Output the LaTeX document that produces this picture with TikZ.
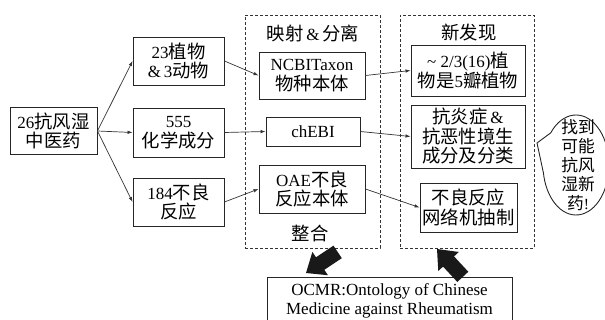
\documentclass[tikz,border=0pt]{standalone}
\usepackage{fontspec}
\setmainfont{Liberation Serif}
\newfontfamily\cjk[Scale=1.08]{Noto Sans CJK SC}
\newcommand{\zh}[1]{{\cjk #1}}
\newcommand{\fsz}{\fontsize{17}{19.5}\selectfont}
\usetikzlibrary{arrows.meta,shapes.geometric}
\begin{document}
\begin{tikzpicture}[x=1pt,y=-1pt,
  box/.style={draw=black!85, line width=0.9pt, align=center, inner sep=1pt, font=\fsz},
  grp/.style={draw=black!80, line width=0.8pt, dash pattern=on 3pt off 2pt, inner sep=0pt},
  lbl/.style={align=center, inner sep=0pt, font=\fsz},
  conn/.style={draw=black!80, line width=0.7pt, -{Latex[length=5pt,width=3.5pt]}},
  blk/.style={fill=black!90}]
\useasboundingbox (0,0) rectangle (605,320);
\clip (0,0) rectangle (605,320);
% group frames
\node[grp, minimum width=135pt, minimum height=233pt] (g1) at (312.5,131.5) {};
\node[grp, minimum width=134pt, minimum height=233pt] (g2) at (467,131.5) {};
\node[lbl] (t1) at (313,33) {\zh{映射}\,\&\,\zh{分离}};
\node[lbl] (t2) at (469,33) {\zh{新发现}};
\node[lbl] (t3) at (310,233) {\zh{整合}};
% left column
\node[box, minimum width=87pt, minimum height=47pt] (src) at (53.5,131) {26\zh{抗风湿}\\\zh{中医药}};
\node[box, minimum width=91pt, minimum height=48pt] (n23) at (178.5,61) {23\zh{植物}\\\&\,3\zh{动物}};
\node[box, minimum width=91pt, minimum height=49pt] (n555) at (178.5,132.5) {555\\\zh{化学成分}};
\node[box, minimum width=91pt, minimum height=48pt] (n184) at (178.5,202) {184\zh{不良}\\\zh{反应}};
% middle column
\node[box, minimum width=106pt, minimum height=47pt] (ncbi) at (312,75.5) {NCBITaxon\\\zh{物种本体}};
\node[box, minimum width=94pt, minimum height=29pt] (chebi) at (313,131.5) {chEBI};
\node[box, minimum width=106pt, minimum height=48pt] (oae) at (312,189) {OAE\zh{不良}\\\zh{反应本体}};
% right column
\node[box, minimum width=114pt, minimum height=51pt] (f1) at (468,70.5) {\textasciitilde\ 2/3(16)\zh{植}\\\zh{物是}5\zh{瓣植物}};
\node[box, minimum width=114pt, minimum height=63pt] (f2) at (468,136.5) {\zh{抗炎症}\,\&\\\zh{抗恶性境生}\\\zh{成分及分类}};
\node[box, minimum width=97pt, minimum height=49pt] (f3) at (468.5,207.5) {\zh{不良反应}\\\zh{网络机抽制}};
% bottom
\node[box, minimum width=245pt, minimum height=48pt] (ocmr) at (389.5,301) {OCMR:Ontology of Chinese\\Medicine against Rheumatism};
% speech bubble
\coordinate (tip) at (537,143);
\draw[line width=0.9pt, black!85] (tip) -- (550.72,132.86) arc[start angle=220, end angle=531, x radius=33, y radius=50] -- cycle;
\node[lbl, font=\fontsize{15.5}{19}\selectfont] (bub) at (578,165) {\zh{找到}\\\zh{可能}\\\zh{抗风}\\\zh{湿新}\\\zh{药}!};
% connectors
\draw[conn] (src.east) -- (n23.west);
\draw[conn] (src.east) -- (n555.west);
\draw[conn] (src.east) -- (n184.west);
\draw[conn] (n23.east) -- (ncbi.west);
\draw[conn] (n555.east) -- (chebi.west);
\draw[conn] (n184.east) -- (oae.west);
\draw[conn] (ncbi.east) -- (f1.west);
\draw[conn] (chebi.east) -- (f2.west);
\draw[conn] (oae.east) -- (f3.west);
% block arrows
\fill[blk, shift={(306,273)}, rotate=213.7] (0,0) -- (-17,14) -- (-17,7.5) -- (-38,7.5) -- (-38,-7.5) -- (-17,-7.5) -- (-17,-14) -- cycle;
\fill[blk, shift={(437,249)}, rotate=132.8] (0,0) -- (-17,14) -- (-17,7.5) -- (-38,7.5) -- (-38,-7.5) -- (-17,-7.5) -- (-17,-14) -- cycle;
\end{tikzpicture}
\end{document}
